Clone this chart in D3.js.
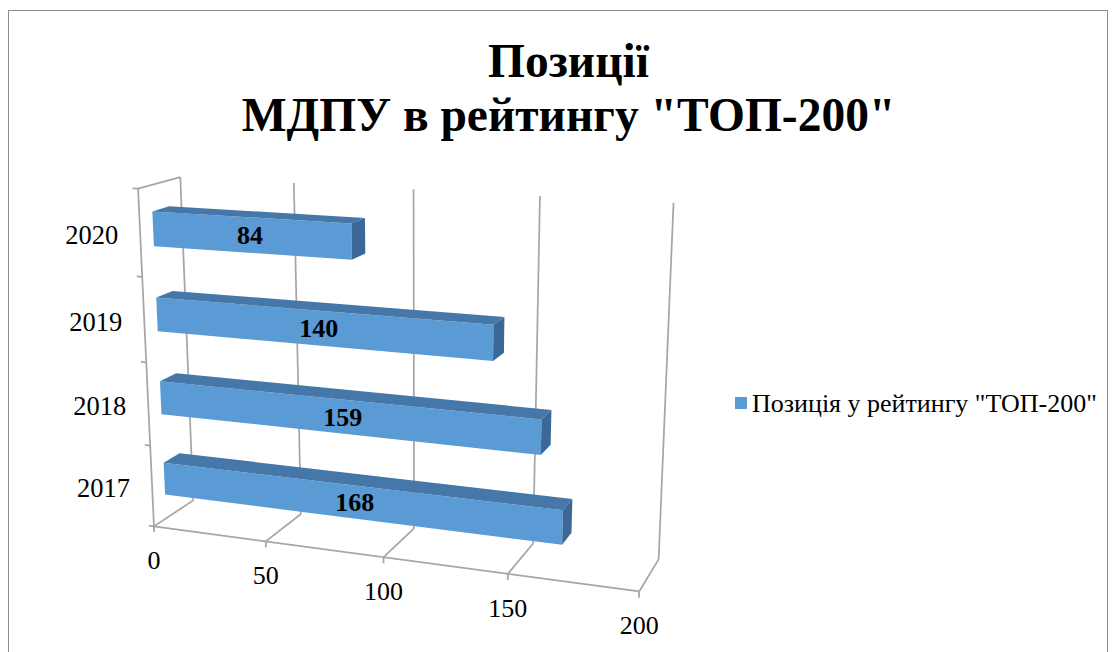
<!DOCTYPE html>
<html>
<head>
<meta charset="utf-8">
<script src="https://cdn.jsdelivr.net/npm/d3@7"></script>
<style>
  body { margin: 0; background: #fff; }
  text { font-family: "Liberation Serif", "Times New Roman", serif; fill: #000; }
</style>
</head>
<body>
<svg id="chart" width="1113" height="652"></svg>
<script>
// data
const years = ["2017", "2018", "2019", "2020"];
const positions = [168, 159, 140, 84];
const valueTicks = [0, 50, 100, 150, 200];
const seriesName = 'Позиція у рейтингу "ТОП-200"';
const titleLines = ["Позиції", 'МДПУ в рейтингу "ТОП-200"'];

// camera calibration of the unit box: [u (value), v (height), w (depth, 0 = front), screenX, screenY]
const boxCalib = [
  [0, 0, 0, 154.3, 526], [1, 0, 0, 639.3, 590.7],
  [0, 0, 1, 193, 500], [1, 0, 1, 658.3, 560],
  [0, 1, 1, 180.5, 177.3], [1, 1, 1, 673.3, 202.3],
  [0, 1, 0, 137.7, 189.3],
  [0.25, 0, 0, 266.5, 542], [0.5, 0, 0, 383, 559], [0.75, 0, 0, 508, 573],
  [0.25, 1, 1, 293.5, 183], [0.5, 1, 1, 414.5, 189.5], [0.75, 1, 1, 540, 196],
  [0, 0.25, 0, 150, 445], [0, 0.5, 0, 146.2, 361.7], [0, 0.75, 0, 142, 276.7]
];

//fit a 3x4 perspective matrix (DLT, least squares)
function fitProjection(pts) {
  const rows = [], rhs = [];
  pts.forEach(([X, Y, Z, x, y]) => {
    rows.push([X, Y, Z, 1, 0, 0, 0, 0, -x * X, -x * Y, -x * Z]); rhs.push(x);
    rows.push([0, 0, 0, 0, X, Y, Z, 1, -y * X, -y * Y, -y * Z]); rhs.push(y);
  });
  const n = 11;
  const M = d3.range(n).map(i => d3.range(n + 1).map(j => {
    let s = 0;
    rows.forEach((r, k) => { s += r[i] * (j < n ? r[j] : rhs[k]); });
    return s;
  }));
  for (let c = 0; c < n; c++) {
    let piv = c;
    for (let r = c + 1; r < n; r++) if (Math.abs(M[r][c]) > Math.abs(M[piv][c])) piv = r;
    [M[c], M[piv]] = [M[piv], M[c]];
    for (let r = 0; r < n; r++) {
      if (r === c) continue;
      const f = M[r][c] / M[c][c];
      for (let k = c; k <= n; k++) M[r][k] -= f * M[c][k];
    }
  }
  return d3.range(n).map(i => M[i][n] / M[i][i]);
}
const P = fitProjection(boxCalib);
function project([u, v, w]) {
  const d = P[8] * u + P[9] * v + P[10] * w + 1;
  return [(P[0] * u + P[1] * v + P[2] * w + P[3]) / d,
          (P[4] * u + P[5] * v + P[6] * w + P[7]) / d];
}

const svg = d3.select("#chart");
const width = +svg.attr("width");

// chart border
svg.append("rect")
  .attr("x", 8.5).attr("y", 10.5)
  .attr("width", 1099).attr("height", 700)
  .attr("fill", "none").attr("stroke", "#8c8c8c").attr("stroke-width", 1);

//title
svg.append("g").selectAll("text")
  .data(titleLines)
  .join("text")
  .attr("x", width / 2 + 12)
  .attr("y", (d, i) => 77 + i * 54)
  .attr("text-anchor", "middle")
  .attr("font-size", 47.5)
  .attr("font-weight", "bold")
  .text(d => d);

// scales into the unit box
const x3 = d3.scaleLinear().domain([0, 200]).range([0, 1]);
const y3 = d3.scaleBand().domain(years).range([0, 1]).paddingInner(0.6).paddingOuter(0.3);
const depth = [0.3, 0.7];

const line = d3.line();
const seg = (a, b) => line([project(a), project(b)]);

const grid = svg.append("g")
  .attr("fill", "none")
  .attr("stroke", "#a6a6a6")
  .attr("stroke-width", 1.75);

// back wall gridlines + floor gridlines
valueTicks.forEach(t => {
  const u = x3(t);
  grid.append("path").attr("d", seg([u, 0, 1], [u, 1, 1]));
  grid.append("path").attr("d", seg([u, 0, 0], [u, 0, 1]));
  grid.append("path").attr("d", seg([u, 0, 0], [u, -0.018, 0]));
});
// value axis, category axis, side wall top
grid.append("path").attr("d", seg([0, 0, 0], [1, 0, 0]));
grid.append("path").attr("d", seg([0, 0, 0], [0, 1, 0]));
grid.append("path").attr("d", seg([0, 1, 0], [0, 1, 1]));
d3.range(years.length + 1).forEach(i => {
  const v = i / years.length;
  grid.append("path").attr("d", seg([0, v, 0], [-0.012, v, 0]));
});

//bars
const poly = pts => "M" + pts.map(p => project(p).join(",")).join("L") + "Z";
const bars = svg.append("g").selectAll("g")
  .data(years.map((y, i) => ({ year: y, value: positions[i] })))
  .join("g");

bars.each(function(d) {
  const g = d3.select(this);
  const u = x3(d.value);
  const v0 = y3(d.year), v1 = v0 + y3.bandwidth();
  const [w0, w1] = depth;
  g.append("path").attr("fill", "#5b9bd5")
    .attr("d", poly([[0, v0, w0], [u, v0, w0], [u, v1, w0], [0, v1, w0]]));
  g.append("path").attr("fill", "#4677a9")
    .attr("d", poly([[0, v1, w0], [u, v1, w0], [u, v1, w1], [0, v1, w1]]));
  g.append("path").attr("fill", "#3b6896")
    .attr("d", poly([[u, v0, w0], [u, v0, w1], [u, v1, w1], [u, v1, w0]]));
  const c = project([u / 2, (v0 + v1) / 2, w0]);
  g.append("text")
    .attr("x", c[0]).attr("y", c[1] + 9)
    .attr("text-anchor", "middle")
    .attr("font-size", 26)
    .attr("font-weight", "bold")
    .text(d.value);
});

// value axis labels
svg.append("g").selectAll("text")
  .data(valueTicks)
  .join("text")
  .attr("x", d => project([x3(d), 0, 0])[0])
  .attr("y", d => project([x3(d), 0, 0])[1] + 43)
  .attr("text-anchor", "middle")
  .attr("font-size", 26)
  .text(d => d);

// category labels
svg.append("g").selectAll("text")
  .data(years)
  .join("text")
  .attr("x", d => project([0, y3(d) + y3.bandwidth() / 2, 0])[0] - 22)
  .attr("y", d => project([0, y3(d) + y3.bandwidth() / 2, 0])[1] + 11)
  .attr("text-anchor", "end")
  .attr("font-size", 26.5)
  .text(d => d);

//legend
const legend = svg.append("g").attr("transform", "translate(735,397)");
legend.append("rect").attr("width", 12).attr("height", 12).attr("fill", "#5b9bd5");
legend.append("text").attr("x", 17).attr("y", 15).attr("font-size", 26).text(seriesName);
</script>
</body>
</html>
